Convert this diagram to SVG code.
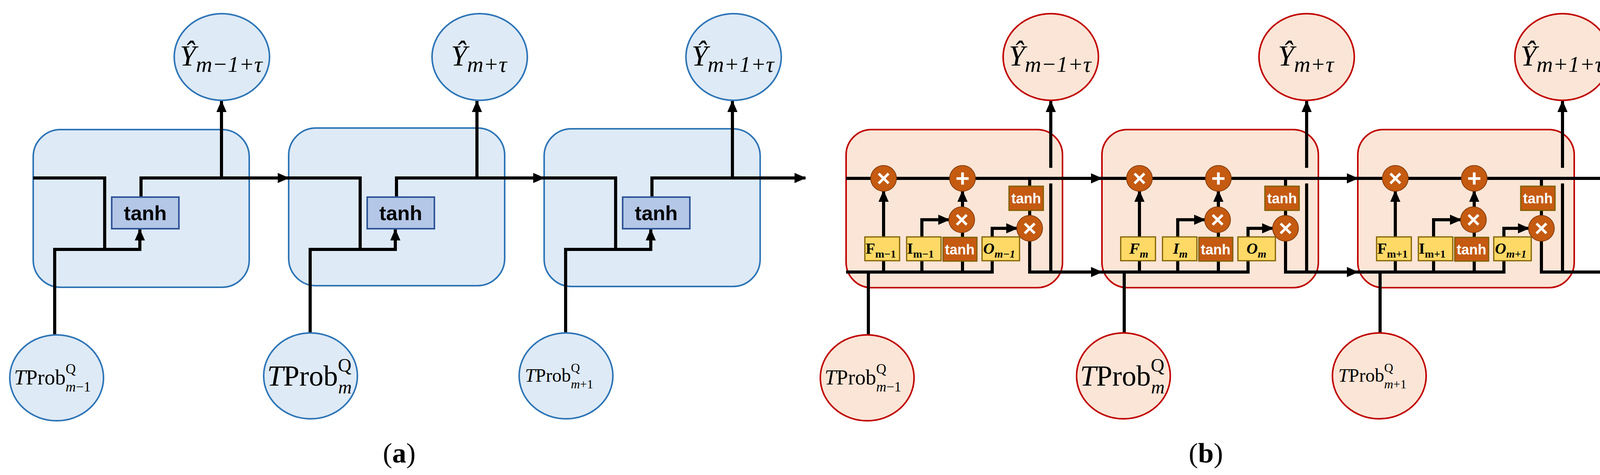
<svg xmlns="http://www.w3.org/2000/svg" width="4155" height="1217" viewBox="0 0 4155 1217">
<style>
.ln{fill:none;stroke:#000;stroke-width:8}
.ar{marker-end:url(#ah)}
.ba{fill:#deeaf6;stroke:#2e75b6;stroke-width:4}
.ta{fill:#b4c7e7;stroke:#2f5597;stroke-width:4}
.br{fill:#fbe5d6;stroke:#c00000;stroke-width:4}
.op{fill:#c55a11;stroke:#843c0c;stroke-width:2}
.yb{fill:#ffd966;stroke:#7f6000;stroke-width:3}
.db{fill:#c55a11;stroke:#7f6000;stroke-width:3}
.s{font-family:"Liberation Serif",serif}
.wt{font-family:"Liberation Sans",sans-serif;font-weight:bold;fill:#fff;text-anchor:middle}
.bt{font-family:"Liberation Sans",sans-serif;font-weight:bold;fill:#000;text-anchor:middle;font-size:52px}
</style>
<defs>
<marker id="ah" markerUnits="userSpaceOnUse" markerWidth="30" markerHeight="26" refX="28" refY="13" orient="auto"><path d="M0,0L30,13L0,26Z" fill="#000"/></marker>
</defs>
<g id="cells-a">
<rect class="ba" x="85" y="332" width="553" height="404" rx="70"/>
<rect class="ba" x="739" y="328" width="553" height="404" rx="70"/>
<rect class="ba" x="1393" y="330" width="553" height="404" rx="70"/>
</g>
<g id="cells-b">
<rect class="br" x="2166" y="332" width="554" height="405" rx="65"/>
<rect class="br" x="2821" y="332" width="554" height="405" rx="65"/>
<rect class="br" x="3476" y="332" width="554" height="405" rx="65"/>
</g>
<g id="connectors">
<g transform="translate(85,0)">
<path class="ln" d="M0,456H183V639"/><path class="ln ar" d="M55,858V639H273V588"/><path class="ln ar" d="M276,505V456H654"/><path class="ln ar" d="M482,456V259"/>
</g>
<g transform="translate(739,0)">
<path class="ln" d="M0,456H183V639"/><path class="ln ar" d="M55,858V639H273V588"/><path class="ln ar" d="M276,505V456H654"/><path class="ln ar" d="M482,456V259"/>
</g>
<g transform="translate(1393,0)">
<path class="ln" d="M0,456H183V639"/><path class="ln ar" d="M55,858V639H273V588"/><path class="ln ar" d="M276,505V456H669"/><path class="ln ar" d="M482,456V259"/>
</g>
<g transform="translate(2166,0)">
<path class="ln ar" d="M0,457H655"/><path class="ln ar" d="M0,697H374V585H438"/><path class="ln ar" d="M96,697V489"/><path class="ln ar" d="M194,697V563H264"/><path class="ln ar" d="M298,697V489"/><path class="ln ar" d="M470,457V697H655"/><path class="ln" d="M524,697V470"/><path class="ln ar" d="M524,430V259"/><path class="ln" d="M57,697V860"/>
</g>
<g transform="translate(2821,0)">
<path class="ln ar" d="M0,457H655"/><path class="ln ar" d="M0,697H374V585H438"/><path class="ln ar" d="M96,697V489"/><path class="ln ar" d="M194,697V563H264"/><path class="ln ar" d="M298,697V489"/><path class="ln ar" d="M470,457V697H655"/><path class="ln" d="M524,697V470"/><path class="ln ar" d="M524,430V259"/><path class="ln" d="M57,697V860"/>
</g>
<g transform="translate(3476,0)">
<path class="ln ar" d="M0,457H666"/><path class="ln ar" d="M0,697H374V585H438"/><path class="ln ar" d="M96,697V489"/><path class="ln ar" d="M194,697V563H264"/><path class="ln ar" d="M298,697V489"/><path class="ln ar" d="M470,457V697H666"/><path class="ln" d="M524,697V470"/><path class="ln ar" d="M524,430V259"/><path class="ln" d="M57,697V860"/>
</g>
</g>
<g id="tanh-a">
<g><rect class="ta" x="286" y="505" width="172" height="81"/><text class="bt" x="372" y="564">tanh</text></g>
<g><rect class="ta" x="940" y="505" width="172" height="81"/><text class="bt" x="1026" y="564">tanh</text></g>
<g><rect class="ta" x="1594" y="505" width="172" height="81"/><text class="bt" x="1680" y="564">tanh</text></g>
</g>
<g id="gates-b1" transform="translate(2166,0)">
<circle class="op" cx="96" cy="457" r="33"/><text class="wt" x="96" y="477" font-size="60">×</text>
<circle class="op" cx="298" cy="457" r="33"/><text class="wt" x="298" y="478" font-size="62">+</text>
<circle class="op" cx="296" cy="563" r="33"/><text class="wt" x="296" y="583" font-size="60">×</text>
<circle class="op" cx="470" cy="585" r="33"/><text class="wt" x="470" y="605" font-size="60">×</text>
<rect class="db" x="417" y="477" width="88" height="62"/><text class="wt" x="461" y="521" font-size="36">tanh</text>
<rect class="yb" x="48" y="607" width="89" height="61"/><text class="s" x="50" y="650" font-size="40" font-weight="bold">F<tspan font-size="28" dy="10">m−1</tspan></text>
<rect class="yb" x="155" y="607" width="88" height="61"/><text class="s" x="156" y="650" font-size="40" font-weight="bold">I<tspan font-size="28" dy="10">m−1</tspan></text>
<rect class="db" x="248" y="608" width="87" height="61"/><text class="wt" x="291" y="652" font-size="36">tanh</text>
<rect class="yb" x="348" y="607" width="96" height="61"/><text class="s" x="351" y="650" font-size="40" font-weight="bold" font-style="italic">O<tspan font-size="28" dy="10">m−1</tspan></text>
</g>
<g id="gates-b2" transform="translate(2821,0)">
<circle class="op" cx="96" cy="457" r="33"/><text class="wt" x="96" y="477" font-size="60">×</text>
<circle class="op" cx="298" cy="457" r="33"/><text class="wt" x="298" y="478" font-size="62">+</text>
<circle class="op" cx="296" cy="563" r="33"/><text class="wt" x="296" y="583" font-size="60">×</text>
<circle class="op" cx="470" cy="585" r="33"/><text class="wt" x="470" y="605" font-size="60">×</text>
<rect class="db" x="417" y="477" width="88" height="62"/><text class="wt" x="461" y="521" font-size="36">tanh</text>
<rect class="yb" x="48" y="607" width="89" height="61"/><text class="s" x="70" y="650" font-size="40" font-weight="bold" font-style="italic">F<tspan font-size="28" dy="10">m</tspan></text>
<rect class="yb" x="155" y="607" width="88" height="61"/><text class="s" x="182" y="650" font-size="40" font-weight="bold" font-style="italic">I<tspan font-size="28" dy="10">m</tspan></text>
<rect class="db" x="248" y="608" width="87" height="61"/><text class="wt" x="291" y="652" font-size="36">tanh</text>
<rect class="yb" x="348" y="607" width="96" height="61"/><text class="s" x="370" y="650" font-size="40" font-weight="bold" font-style="italic">O<tspan font-size="28" dy="10">m</tspan></text>
</g>
<g id="gates-b3" transform="translate(3476,0)">
<circle class="op" cx="96" cy="457" r="33"/><text class="wt" x="96" y="477" font-size="60">×</text>
<circle class="op" cx="298" cy="457" r="33"/><text class="wt" x="298" y="478" font-size="62">+</text>
<circle class="op" cx="296" cy="563" r="33"/><text class="wt" x="296" y="583" font-size="60">×</text>
<circle class="op" cx="470" cy="585" r="33"/><text class="wt" x="470" y="605" font-size="60">×</text>
<rect class="db" x="417" y="477" width="88" height="62"/><text class="wt" x="461" y="521" font-size="36">tanh</text>
<rect class="yb" x="48" y="607" width="89" height="61"/><text class="s" x="50" y="650" font-size="40" font-weight="bold">F<tspan font-size="28" dy="10">m+1</tspan></text>
<rect class="yb" x="155" y="607" width="88" height="61"/><text class="s" x="156" y="650" font-size="40" font-weight="bold">I<tspan font-size="28" dy="10">m+1</tspan></text>
<rect class="db" x="248" y="608" width="87" height="61"/><text class="wt" x="291" y="652" font-size="36">tanh</text>
<rect class="yb" x="348" y="607" width="96" height="61"/><text class="s" x="351" y="650" font-size="40" font-weight="bold" font-style="italic">O<tspan font-size="28" dy="10">m+1</tspan></text>
</g>
<g id="outputs">
<g id="ya1"><ellipse class="ba" cx="568" cy="146" rx="122" ry="111"/><text class="s" x="566" y="168" font-size="74" font-style="italic" text-anchor="middle">Ŷ<tspan font-size="58" dy="16">m−1+τ</tspan></text></g>
<g id="ya2"><ellipse class="ba" cx="1228" cy="146" rx="122" ry="111"/><text class="s" x="1226" y="168" font-size="74" font-style="italic" text-anchor="middle">Ŷ<tspan font-size="58" dy="16">m+τ</tspan></text></g>
<g id="ya3"><ellipse class="ba" cx="1878" cy="146" rx="122" ry="111"/><text class="s" x="1876" y="168" font-size="74" font-style="italic" text-anchor="middle">Ŷ<tspan font-size="58" dy="16">m+1+τ</tspan></text></g>
<g id="yb1"><ellipse class="br" cx="2690" cy="146" rx="122" ry="111"/><text class="s" x="2688" y="168" font-size="74" font-style="italic" text-anchor="middle">Ŷ<tspan font-size="58" dy="16">m−1+τ</tspan></text></g>
<g id="yb2"><ellipse class="br" cx="3345" cy="146" rx="122" ry="111"/><text class="s" x="3343" y="168" font-size="74" font-style="italic" text-anchor="middle">Ŷ<tspan font-size="58" dy="16">m+τ</tspan></text></g>
<g id="yb3"><ellipse class="br" cx="4000" cy="146" rx="122" ry="111"/><text class="s" x="3998" y="168" font-size="74" font-style="italic" text-anchor="middle">Ŷ<tspan font-size="58" dy="16">m+1+τ</tspan></text></g>
</g>
<g id="inputs">
<g id="xa1"><ellipse class="ba" cx="145" cy="968" rx="120" ry="110"/><text class="s" x="36" y="985" font-size="54"><tspan font-style="italic">T</tspan>Prob<tspan font-size="36" dy="-28">Q</tspan><tspan font-size="36" dx="-26" dy="46" font-style="italic">m</tspan><tspan font-size="36">−1</tspan></text></g>
<g id="xa2"><ellipse class="ba" cx="795" cy="963" rx="120" ry="110"/><text class="s" x="684" y="988" font-size="74"><tspan font-style="italic">T</tspan>Prob<tspan font-size="48" dy="-36">Q</tspan><tspan font-size="48" dx="-34" dy="56" font-style="italic">m</tspan></text></g>
<g id="xa3"><ellipse class="ba" cx="1449" cy="963" rx="120" ry="110"/><text class="s" x="1344" y="978" font-size="48"><tspan font-style="italic">T</tspan>Prob<tspan font-size="32" dy="-25">Q</tspan><tspan font-size="32" dx="-23" dy="42" font-style="italic">m</tspan><tspan font-size="32">+1</tspan></text></g>
<g id="xb1"><ellipse class="br" cx="2220" cy="968" rx="120" ry="110"/><text class="s" x="2111" y="985" font-size="54"><tspan font-style="italic">T</tspan>Prob<tspan font-size="36" dy="-28">Q</tspan><tspan font-size="36" dx="-26" dy="46" font-style="italic">m</tspan><tspan font-size="36">−1</tspan></text></g>
<g id="xb2"><ellipse class="br" cx="2876" cy="963" rx="120" ry="110"/><text class="s" x="2765" y="988" font-size="74"><tspan font-style="italic">T</tspan>Prob<tspan font-size="48" dy="-36">Q</tspan><tspan font-size="48" dx="-34" dy="56" font-style="italic">m</tspan></text></g>
<g id="xb3"><ellipse class="br" cx="3531" cy="963" rx="120" ry="110"/><text class="s" x="3426" y="978" font-size="48"><tspan font-style="italic">T</tspan>Prob<tspan font-size="32" dy="-25">Q</tspan><tspan font-size="32" dx="-23" dy="42" font-style="italic">m</tspan><tspan font-size="32">+1</tspan></text></g>
</g>
<text class="s" x="1022" y="1185" font-size="72" text-anchor="middle">(<tspan font-weight="bold">a</tspan>)</text>
<text class="s" x="3087" y="1185" font-size="72" text-anchor="middle">(<tspan font-weight="bold">b</tspan>)</text>
</svg>
